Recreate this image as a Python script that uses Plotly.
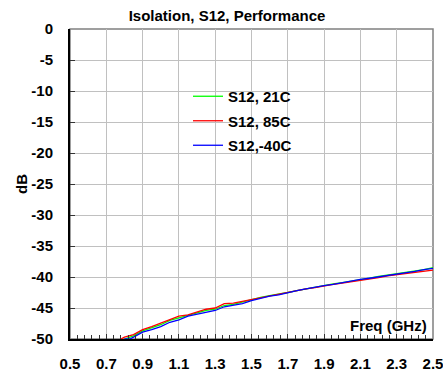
import plotly.graph_objects as go

freq_red = [0.78, 0.80, 0.85, 0.90, 0.95, 1.00, 1.05, 1.10, 1.15, 1.20, 1.25, 1.30, 1.35, 1.40,
            1.45, 1.50, 1.55, 1.60, 1.65, 1.70, 1.75, 1.80, 1.85, 1.90, 1.95, 2.00, 2.05,
            2.10, 2.15, 2.20, 2.25, 2.30, 2.35, 2.40, 2.45, 2.50]
s12_85c = [-50.0, -49.7, -49.3, -48.5, -48.0, -47.4, -46.8, -46.3, -46.1, -45.7, -45.2, -45.0,
           -44.3, -44.2, -43.9, -43.6, -43.3, -43.0, -42.8, -42.5, -42.2, -41.9, -41.7, -41.4,
           -41.2, -41.0, -40.8, -40.5, -40.3, -40.1, -39.8, -39.6, -39.4, -39.2, -39.0, -38.9]

freq_green = [0.80, 0.85, 0.90, 0.95, 1.00, 1.05, 1.10, 1.15, 1.20, 1.25, 1.30, 1.35, 1.40,
              1.45, 1.50, 1.55, 1.60, 1.65, 1.70, 1.75, 1.80, 1.85, 1.90, 1.95, 2.00, 2.05,
              2.10, 2.15, 2.20, 2.25, 2.30, 2.35, 2.40, 2.45, 2.50]
s12_21c = [-50.0, -49.5, -48.7, -48.2, -47.7, -47.0, -46.6, -46.2, -45.9, -45.4, -45.2, -44.6,
           -44.4, -44.0, -43.7, -43.3, -43.0, -42.8, -42.5, -42.2, -41.9, -41.6, -41.3, -41.1,
           -40.9, -40.7, -40.4, -40.2, -39.9, -39.7, -39.5, -39.3, -39.0, -38.8, -38.5]

freq_blue = [0.80, 0.83, 0.85, 0.90, 0.95, 1.00, 1.05, 1.10, 1.15, 1.20, 1.25, 1.30, 1.35, 1.40,
             1.45, 1.50, 1.55, 1.60, 1.65, 1.70, 1.75, 1.80, 1.85, 1.90, 1.95, 2.00, 2.05,
             2.10, 2.15, 2.20, 2.25, 2.30, 2.35, 2.40, 2.45, 2.50]
s12_m40c = [-50.0, -50.0, -49.7, -48.9, -48.5, -48.0, -47.3, -46.9, -46.3, -46.0, -45.6, -45.4,
            -44.8, -44.6, -44.3, -43.8, -43.4, -43.1, -42.9, -42.5, -42.2, -41.9, -41.6, -41.4,
            -41.2, -40.9, -40.7, -40.4, -40.2, -40.0, -39.7, -39.5, -39.3, -39.1, -38.8, -38.6]

x_ticks = [0.5, 0.7, 0.9, 1.1, 1.3, 1.5, 1.7, 1.9, 2.1, 2.3, 2.5]
y_ticks = [0, -5, -10, -15, -20, -25, -30, -35, -40, -45, -50]

series = [
    ("S12, 21C", freq_green, s12_21c, "#00ff00"),
    ("S12, 85C", freq_red, s12_85c, "#ff0000"),
    ("S12,-40C", freq_blue, s12_m40c, "#0000ff"),
]

fig = go.Figure()
for i, (name, xs, ys, col) in enumerate(series):
    fig.add_trace(go.Scatter(x=xs, y=ys, mode="lines", name=name, legendgroup=str(i),
                             line=dict(color=col, width=1.3)))

font_family = "Arial, Liberation Sans, sans-serif"
FS = 15

fig.update_layout(
    width=443, height=373,
    margin=dict(l=70, r=10, t=29, b=34),
    paper_bgcolor="white", plot_bgcolor="white",
    title=dict(text="Isolation, S12, Performance", x=227 / 443, xanchor="center",
               y=1 - 16 / 373, yanchor="middle",
               font=dict(family=font_family, size=FS, color="black", weight="bold")),
    showlegend=True,
    legend=dict(x=(188 - 70) / 363, y=(339 - 80) / 310, xanchor="left", yanchor="top",
                bgcolor="rgba(0,0,0,0)", borderwidth=0, tracegroupgap=2,
                traceorder="grouped", itemwidth=30,
                font=dict(family=font_family, size=FS, color="black", weight="bold")),
    font=dict(family=font_family, color="black"),
)

fig.update_xaxes(
    range=[0.5, 2.5], tickvals=x_ticks, ticktext=[f"{v:.1f}" for v in x_ticks],
    showgrid=True, gridcolor="#c0c0c0", gridwidth=1,
    showline=True, linecolor="black", linewidth=2,
    ticks="inside", ticklen=5, tickcolor="#333", tickwidth=1,
    minor=dict(ticks="inside", dtick=0.04, tick0=0.5, ticklen=4, tickcolor="#333",
               showgrid=False),
    ticklabelstandoff=10, automargin=False, ticklabeloverflow="allow",
    tickfont=dict(family=font_family, size=FS, color="black", weight="bold"),
    zeroline=False,
)
fig.update_yaxes(
    range=[-50, 0], tickvals=y_ticks, ticktext=[str(v) for v in y_ticks],
    showgrid=True, gridcolor="#c0c0c0", gridwidth=1,
    showline=True, linecolor="black", linewidth=2,
    ticks="inside", ticklen=5, tickcolor="#333", tickwidth=1,
    ticklabelstandoff=12, automargin=False, ticklabeloverflow="allow",
    tickfont=dict(family=font_family, size=FS, color="black", weight="bold"),
    title=dict(text="dB", standoff=0,
               font=dict(family=font_family, size=FS, color="black", weight="bold")),
    zeroline=False,
)

# plot border (top/right) in grey
fig.add_shape(type="rect", xref="paper", yref="paper", x0=0, x1=1, y0=0, y1=1,
              line=dict(color="#808080", width=1.5), layer="below")
# white legend backdrop
fig.add_shape(type="rect", xref="paper", yref="paper",
              x0=(167 - 70) / 363, x1=(315 - 70) / 363,
              y0=(339 - 157) / 310, y1=(339 - 84) / 310,
              line=dict(width=0), fillcolor="white", layer="between")

fig.add_annotation(text="Freq (GHz)", x=0.99, y=(339 - 325) / 310, xref="paper", yref="paper",
                   xanchor="right", yanchor="middle", showarrow=False,
                   font=dict(family=font_family, size=FS, color="black", weight="bold"))

fig.write_html("out.html")
